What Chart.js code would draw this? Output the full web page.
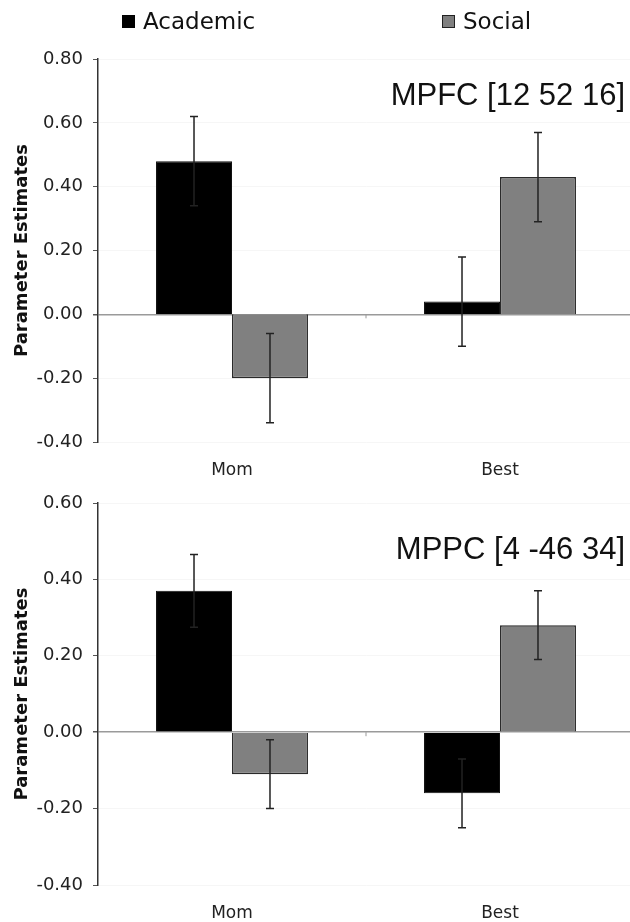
<!DOCTYPE html>
<html>
<head>
<meta charset="utf-8">
<script src="https://cdn.jsdelivr.net/npm/chart.js@4.4.1/dist/chart.umd.min.js"></script>
<style>
  body { margin: 0; width: 630px; height: 922px; overflow: hidden; background: #fff; position: relative; }
  .panel { position: absolute; left: 0; }
  #top { top: 0; }
  #bottom { top: 480px; }
  .key { position: absolute; top: 8px; font: 23px "DejaVu Sans", sans-serif; color: #111; display: flex; align-items: center; }
  .key span.box { display: inline-block; width: 13px; height: 13px; margin-right: 8px; box-sizing: border-box; }
</style>
</head>
<body>
<div class="panel" id="top"><canvas id="mpfc" width="640" height="480"></canvas></div>
<div class="panel" id="bottom"><canvas id="mppc" width="640" height="442"></canvas></div>
<div id="legend"></div>
<script>
// data
const categories = ['Mom', 'Best'];
const seriesNames = ['Academic', 'Social'];
const seriesColors = ['#000000', '#808080'];

const mpfcAcademic = [0.48, 0.04];
const mpfcSocial = [-0.20, 0.43];
const mpfcAcademicErr = [0.14, 0.14];
const mpfcSocialErr = [0.14, 0.14];

const mppcAcademic = [0.37, -0.16];
const mppcSocial = [-0.11, 0.28];
const mppcAcademicErr = [0.095, 0.09];
const mppcSocialErr = [0.09, 0.09];

// legend
const legendLeft = [122, 442];
const legend = document.getElementById('legend');
seriesNames.forEach((name, i) => {
  const d = document.createElement('div');
  d.className = 'key';
  d.style.left = legendLeft[i] + 'px';
  const b = document.createElement('span');
  b.className = 'box';
  b.style.background = seriesColors[i];
  b.style.border = i === 0 ? '1px solid #000' : '1.5px solid #222';
  d.appendChild(b);
  d.appendChild(document.createTextNode(name));
  legend.appendChild(d);
});

// error bars, region label, category tick on the zero line
const extras = {
  id: 'extras',
  afterDatasetsDraw(chart, args, opts) {
    const ctx = chart.ctx;
    const y = chart.scales.y;
    const x = chart.scales.x;
    ctx.save();
    // small tick between categories
    const mid = (x.getPixelForValue(0) + x.getPixelForValue(1)) / 2;
    const y0 = y.getPixelForValue(0);
    ctx.strokeStyle = '#999';
    ctx.lineWidth = 1;
    ctx.beginPath();
    ctx.moveTo(mid, y0);
    ctx.lineTo(mid, y0 + 4);
    ctx.stroke();

    ctx.strokeStyle = '#222';
    ctx.lineWidth = 1.5;
    chart.data.datasets.forEach((ds, i) => {
      const meta = chart.getDatasetMeta(i);
      meta.data.forEach((bar, j) => {
        const v = ds.data[j], e = ds.errors[j];
        const hi = y.getPixelForValue(v + e);
        const lo = y.getPixelForValue(v - e);
        ctx.beginPath();
        ctx.moveTo(bar.x, hi); ctx.lineTo(bar.x, lo);
        ctx.moveTo(bar.x - 4, hi); ctx.lineTo(bar.x + 4, hi);
        ctx.moveTo(bar.x - 4, lo); ctx.lineTo(bar.x + 4, lo);
        ctx.stroke();
      });
    });
    ctx.restore();
  },
  afterDraw(chart, args, opts) {
    const ctx = chart.ctx;
    ctx.save();
    ctx.font = '31px "Liberation Sans", Arial, sans-serif';
    ctx.fillStyle = '#111';
    ctx.textAlign = 'right';
    ctx.textBaseline = 'middle';
    ctx.fillText(opts.text, opts.right, opts.y);
    ctx.restore();
  }
};

function makeChart(id, academic, social, academicErr, socialErr, yMax, label, labelY, padTop, xHeight) {
  return new Chart(document.getElementById(id), {
    type: 'bar',
    data: {
      labels: categories,
      datasets: [
        { label: seriesNames[0], data: academic, errors: academicErr,
          backgroundColor: seriesColors[0], borderColor: '#111', borderWidth: 1 },
        { label: seriesNames[1], data: social, errors: socialErr,
          backgroundColor: seriesColors[1], borderColor: '#2a2a2a', borderWidth: 1.5 }
      ]
    },
    options: {
      responsive: false,
      animation: false,
      layout: { padding: { top: padTop, left: 0, right: 6, bottom: 0 } },
      datasets: { bar: { categoryPercentage: 0.567, barPercentage: 1 } },
      plugins: {
        legend: { display: false },
        tooltip: { enabled: false },
        extras: { text: label, right: 625, y: labelY }
      },
      scales: {
        x: {
          grid: { display: false, drawTicks: false },
          border: { display: false },
          ticks: { font: { family: 'DejaVu Sans', size: 17 }, color: '#222', padding: 18 },
          afterFit: s => { s.height = xHeight; }
        },
        y: {
          min: -0.4,
          max: yMax,
          ticks: {
            stepSize: 0.2,
            font: { family: 'DejaVu Sans', size: 18 },
            color: '#222',
            padding: 10,
            callback: v => (Math.abs(v) < 1e-9 ? 0 : v).toFixed(2)
          },
          grid: {
            color: c => Math.abs(c.tick.value) < 1e-9 ? '#9a9a9a' : '#f6f6f6',
            lineWidth: c => Math.abs(c.tick.value) < 1e-9 ? 1.5 : 1,
            tickLength: 5,
            tickColor: '#555'
          },
          border: { color: '#333', width: 1.5 },
          title: {
            display: true,
            text: 'Parameter Estimates',
            font: { family: 'DejaVu Sans', size: 18, weight: 'bold' },
            color: '#111',
            padding: { top: 12, bottom: 0 }
          },
          afterFit: s => { s.width = 98; }
        }
      }
    },
    plugins: [extras]
  });
}

makeChart('mpfc', mpfcAcademic, mpfcSocial, mpfcAcademicErr, mpfcSocialErr, 0.8, 'MPFC [12 52 16]', 96, 59, 38);
makeChart('mppc', mppcAcademic, mppcSocial, mppcAcademicErr, mppcSocialErr, 0.6, 'MPPC [4 -46 34]', 70, 23, 37);
</script>
</body>
</html>
